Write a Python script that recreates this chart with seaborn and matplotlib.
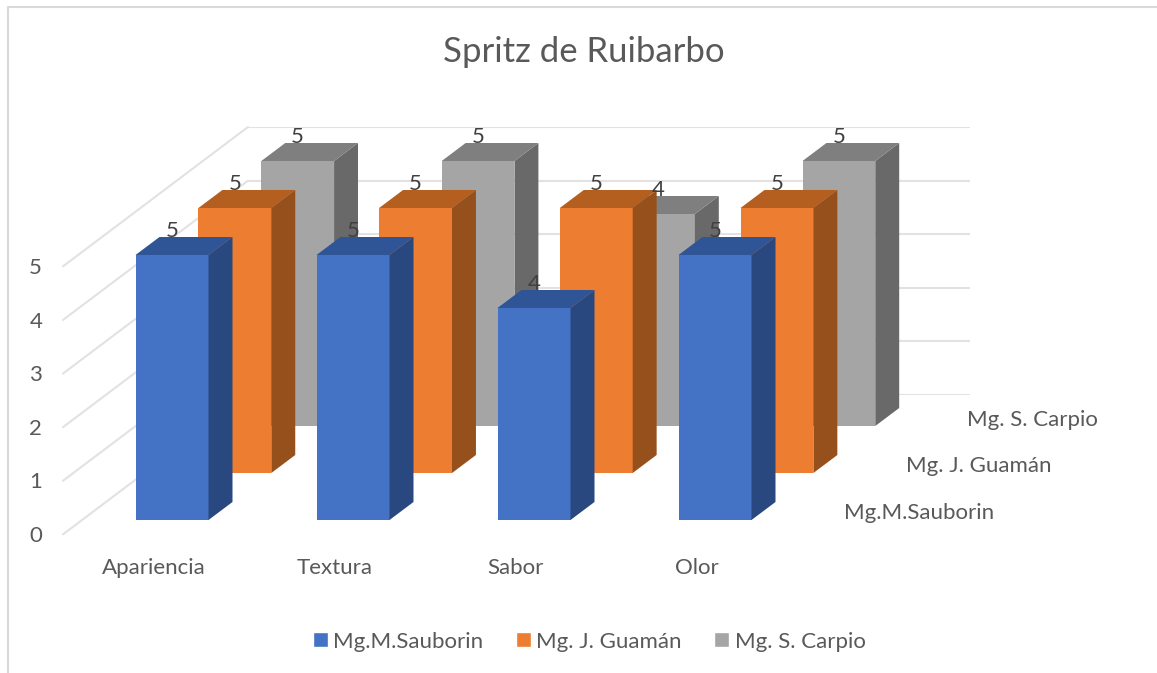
import matplotlib
matplotlib.use("Agg")
import matplotlib.pyplot as plt
import pandas as pd
import seaborn as sns
from matplotlib.lines import Line2D
from matplotlib.patches import Patch, Polygon

categorias = ["Apariencia", "Textura", "Sabor", "Olor"]
series = ["Mg.M.Sauborin", "Mg. J. Guamán", "Mg. S. Carpio"]
sauborin = [5, 5, 4, 5]
guaman = [5, 5, 5, 5]
carpio = [5, 5, 4, 5]
niveles = [0, 1, 2, 3, 4, 5]

colores = ["#4472C4", "#ED7D31", "#A5A5A5"]
colores_top = ["#2F5597", "#B45F1F", "#7F7F7F"]
colores_side = ["#2A4880", "#96501C", "#696969"]
texto = "#595959"
linea = "#E2E2E2"

W, H = 1157, 673

sns.set_theme(style="white")
plt.rcParams["font.family"] = ["Lato", "DejaVu Sans"]

df = pd.DataFrame({"criterio": categorias, series[0]: sauborin, series[1]: guaman, series[2]: carpio})
df = df.melt(id_vars="criterio", var_name="catador", value_name="nota")

fig = plt.figure(figsize=(W / 100, H / 100), dpi=100, facecolor="white")


def caja(x0, y_top, x1, y_bottom):
    # pixels of the picture to figure fractions
    return [x0 / W, 1 - y_bottom / H, (x1 - x0) / W, (y_bottom - y_top) / H]


# back wall, with the gridlines running down the left wall
pared = fig.add_axes(caja(248, 127, 970, 395), zorder=0)
pared.set_xlim(0, 722)
pared.set_ylim(0, 5)
pared.set_yticks(niveles)
pared.set_xticks([])
pared.set_yticklabels([])
pared.grid(axis="y", color=linea, lw=1.5)
pared.tick_params(length=0)
pared.set_axisbelow(True)
sns.despine(ax=pared, left=True, bottom=True)
for v in niveles:
    pared.plot([-185, 0], [v - 2.6, v], color=linea, lw=1.5, clip_on=False)

# one axes per series, moved back along the depth of the chart
dx_serie, dy_serie = 63, 47
ancho = 73 / 181
for k, nombre in enumerate(series):
    left = 81.5 + k * dx_serie
    bottom = 520 - k * dy_serie
    ax = fig.add_axes(caja(left, bottom - 265, left + 724 - 1.2 * k, bottom), zorder=3 - k)
    sns.barplot(
        data=df[df["catador"] == nombre],
        x="criterio",
        y="nota",
        color=colores[k],
        saturation=1,
        width=ancho,
        linewidth=0,
        edgecolor="none",
        ax=ax,
    )
    ax.set_xlim(-0.5, 3.5)
    ax.set_ylim(0, 5)
    ax.axis("off")
    ax.patch.set_alpha(0)

    dx, dy = 24 / 181, 18 / 53
    for bar in list(ax.patches):
        x = bar.get_x()
        w = bar.get_width()
        h = bar.get_height()
        lado = [(x + w, 0), (x + w + dx, dy), (x + w + dx, h + dy), (x + w, h)]
        tapa = [(x, h), (x + dx, h + dy), (x + w + dx, h + dy), (x + w, h)]
        ax.add_patch(Polygon(lado, closed=True, fc=colores_side[k], ec="none", clip_on=False))
        ax.add_patch(Polygon(tapa, closed=True, fc=colores_top[k], ec="none", clip_on=False))
        px, py = ax.transData.transform((x + w / 2, h))
        fig.text(
            px / fig.bbox.width,
            (py + 24) / fig.bbox.height,
            f"{h:.0f}",
            ha="center",
            va="center",
            fontsize=16,
            color="#404040",
            zorder=10,
        )

# axis labels sit on the front edge
frente = fig.add_axes(caja(63, 266, 787, 534), zorder=5)
frente.patch.set_alpha(0)
frente.set_xlim(-0.5, 3.5)
frente.set_ylim(0, 5)
frente.set_xticks(range(len(categorias)))
frente.set_xticklabels(categorias, fontsize=16, color=texto)
frente.set_yticks(niveles)
frente.set_yticklabels(niveles, fontsize=16, color=texto)
frente.tick_params(length=0, axis="x", pad=17)
frente.tick_params(length=0, axis="y", pad=15)
sns.despine(ax=frente, left=True, bottom=True)

# series names on the depth axis
for k, nombre in enumerate(series):
    fig.text(
        (844 + k * 61.5) / W,
        1 - (513 - k * 46.5) / H,
        nombre,
        ha="left",
        va="center",
        fontsize=16,
        color=texto,
    )

fig.text(584 / W, 1 - 52.5 / H, "Spritz de Ruibarbo", ha="center", va="center", fontsize=25, color=texto)

handles = [Patch(facecolor=c, label=s) for c, s in zip(colores, series)]
fig.legend(
    handles=handles,
    loc="center",
    bbox_to_anchor=(589 / W, 1 - 641.5 / H),
    ncol=3,
    frameon=False,
    fontsize=16,
    labelcolor=texto,
    handlelength=0.68,
    handleheight=0.68,
    handletextpad=0.25,
    columnspacing=1.45,
)

# chart border: only the top and left edges fall inside the picture
fig.add_artist(Line2D([8 / W, 1], [1 - 7 / H, 1 - 7 / H], color="#D9D9D9", lw=1.5))
fig.add_artist(Line2D([8 / W, 8 / W], [0, 1 - 7 / H], color="#D9D9D9", lw=1.5))

fig.savefig("out.png", dpi=100)
